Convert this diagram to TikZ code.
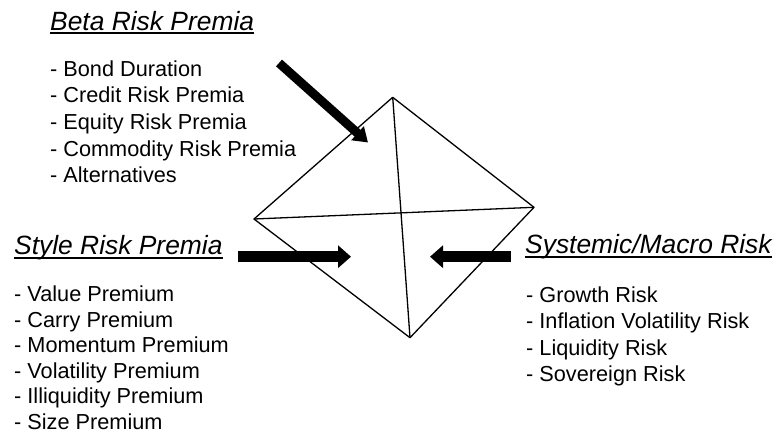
\documentclass[tikz,border=0pt]{standalone}
\usepackage{fontspec}
\setmainfont{Liberation Sans}
\usetikzlibrary{arrows.meta}
\begin{document}
\begin{tikzpicture}[x=1pt,y=-1pt,
  heading/.style={anchor=base west,inner sep=0pt,font=\fontsize{26.4}{30}\selectfont\itshape},
  item/.style={anchor=base west,inner sep=0pt,font=\fontsize{21.7}{26}\selectfont},
  rule/.style={line width=1.8pt},
  edge/.style={line width=1.3pt,line join=round},
  bigarrow/.style={line width=11pt,-{Triangle[length=13pt,width=22pt]}},
  diagarrow/.style={line width=9pt,-{Triangle[length=14pt,width=18pt]}}]
\useasboundingbox (0,0) rectangle (775,434);

% pyramid seen from above
\coordinate (T) at (392.7,97.3);
\coordinate (L) at (254,219);
\coordinate (R) at (534,207.3);
\coordinate (B) at (410,337.7);
\draw[edge] (T) -- (R) -- (B) -- (L) -- cycle;
\draw[edge] (T) -- (B);
\draw[edge] (L) -- (R);

% arrows pointing into the pyramid
\coordinate (betaTail) at (279,63);
\coordinate (betaTip) at (368,142.5);
\draw[diagarrow] (betaTail) -- (betaTip);
\coordinate (styleTail) at (238,256.7);
\coordinate (styleTip) at (351,256.7);
\draw[bigarrow] (styleTail) -- (styleTip);
\coordinate (macroTail) at (511,256.7);
\coordinate (macroTip) at (430,256.7);
\draw[bigarrow] (macroTail) -- (macroTip);

% Beta risk premia
\node[heading] (betaTitle) at (50,30.5) {Beta Risk Premia};
\draw[rule] ([yshift=-2.5pt]betaTitle.base west) -- ([yshift=-2.5pt]betaTitle.base east);
\foreach \t [count=\i] in {Bond Duration,Credit Risk Premia,Equity Risk Premia,Commodity Risk Premia,Alternatives}
  \node[item] (beta\i) at (50,{76+26.7*(\i-1)}) {- \t};

% Style risk premia
\node[heading] (styleTitle) at (14,254.3) {Style Risk Premia};
\draw[rule] ([yshift=-4pt]styleTitle.base west) -- ([yshift=-4pt]styleTitle.base east);
\foreach \t [count=\i] in {Value Premium,Carry Premium,Momentum Premium,Volatility Premium,Illiquidity Premium,Size Premium}
  \node[item] (style\i) at (14,{301.5+25.6*(\i-1)}) {- \t};

% Systemic / macro risk
\node[heading] (macroTitle) at (525,253.3) {Systemic/Macro Risk};
\draw[rule] ([yshift=-3.5pt]macroTitle.base west) -- ([yshift=-3.5pt]macroTitle.base east);
\foreach \t [count=\i] in {Growth Risk,Inflation Volatility Risk,Liquidity Risk,Sovereign Risk}
  \node[item] (macro\i) at (526,{302+26.6*(\i-1)}) {- \t};
\end{tikzpicture}
\end{document}
